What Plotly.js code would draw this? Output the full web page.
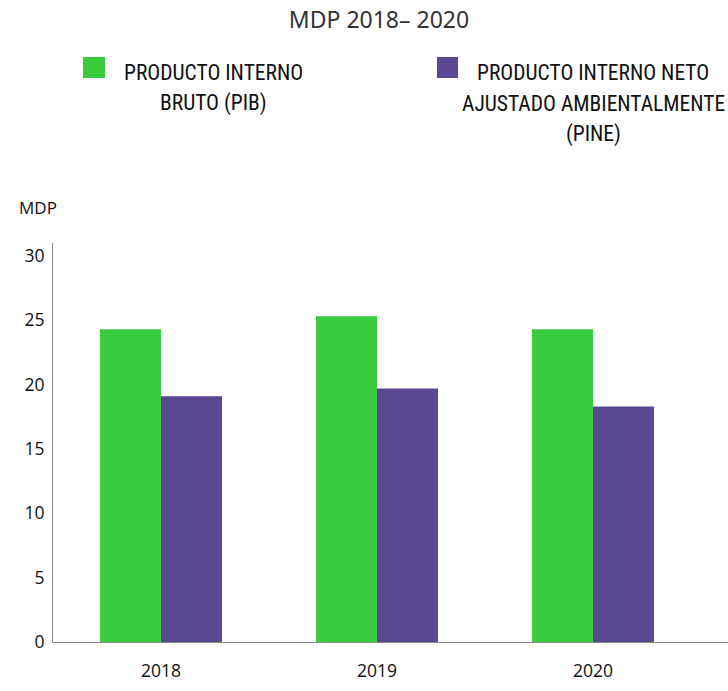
<!DOCTYPE html>
<html>
<head>
<meta charset="utf-8">
<script src="https://cdn.plot.ly/plotly-3.0.1.min.js"></script>
<style>html,body{margin:0;padding:0;background:#fff;}#chart{width:728px;height:691px;}</style>
</head>
<body>
<div id="chart"></div>
<script>
const years = ['2018', '2019', '2020'];
const pib = [24.3, 25.3, 24.3];
const pine = [19.1, 19.7, 18.3];
const seriesNames = ['PRODUCTO INTERNO BRUTO (PIB)', 'PRODUCTO INTERNO NETO AJUSTADO AMBIENTALMENTE (PINE)'];
const legendLines = [['PRODUCTO INTERNO', 'BRUTO (PIB)'], ['PRODUCTO INTERNO NETO', 'AJUSTADO AMBIENTALMENTE', '(PINE)']];
const colors = ['rgb(58,204,62)', 'rgb(89,71,146)'];
const yTicks = [0, 5, 10, 15, 20, 25, 30];

const W = 728, H = 691;
const mL = 53, mR = 0, mT = 243, mB = 49;
const pw = W - mL - mR, ph = H - mT - mB;
const px = x => (x - mL) / pw;
const py = y => (H - mB - y) / ph;

const condensed = '"Roboto Condensed", "Liberation Sans Narrow", "Liberation Sans", sans-serif';

const traces = [
  {type: 'bar', x: years, y: pib, name: seriesNames[0], marker: {color: colors[0]}, hoverinfo: 'y'},
  {type: 'bar', x: years, y: pine, name: seriesNames[1], marker: {color: colors[1]}, hoverinfo: 'y'}
];

const annotations = [
  {text: 'MDP', xref: 'paper', yref: 'paper', x: px(38), y: py(208), showarrow: false,
   xanchor: 'center', yanchor: 'middle', font: {family: '"Open Sans", sans-serif', size: 17, color: '#111'}}
];
const lineY = [72, 103, 134];
const itemCx = [213, 593];
legendLines.forEach((lines, i) => {
  lines.forEach((t, j) => {
    annotations.push({text: t, xref: 'paper', yref: 'paper', x: px(itemCx[i]), y: py(lineY[j]),
      showarrow: false, xanchor: 'center', yanchor: 'middle',
      font: {family: condensed, size: 21.5, color: '#111'}});
  });
});

const shapes = [
  {type: 'rect', xref: 'paper', yref: 'paper', x0: px(83), x1: px(105), y0: py(78), y1: py(57),
   fillcolor: colors[0], line: {width: 0}},
  {type: 'rect', xref: 'paper', yref: 'paper', x0: px(437), x1: px(458), y0: py(78), y1: py(57),
   fillcolor: colors[1], line: {width: 0}}
];

const layout = {
  width: W, height: H,
  margin: {l: mL, r: mR, t: mT, b: mB, pad: 0},
  paper_bgcolor: '#fff', plot_bgcolor: '#fff',
  showlegend: false,
  barmode: 'group', bargap: 0.435, bargroupgap: 0,
  title: {text: 'MDP 2018– 2020', x: 379 / W, xanchor: 'center', xref: 'container',
          y: 1 - 20 / H, yanchor: 'middle', yref: 'container',
          font: {family: '"Noto Sans", sans-serif', size: 23, color: '#333'}},
  xaxis: {type: 'category', range: [-0.5, 2.625], showline: true, linecolor: '#888', linewidth: 1,
          showgrid: false, zeroline: false, ticks: '', ticklabelstandoff: 13,
          tickfont: {family: '"Open Sans", sans-serif', size: 17.5, color: '#111'}, fixedrange: true},
  yaxis: {range: [0, 31], tickvals: yTicks, ticktext: yTicks.map(String), showline: true, linecolor: '#888', linewidth: 1,
          showgrid: false, zeroline: false, ticks: '', ticklabelstandoff: 4,
          tickfont: {family: '"Open Sans", sans-serif', size: 17.5, color: '#111'}, fixedrange: true},
  annotations: annotations,
  shapes: shapes
};

Plotly.newPlot('chart', traces, layout, {displayModeBar: false, staticPlot: true});
</script>
</body>
</html>
